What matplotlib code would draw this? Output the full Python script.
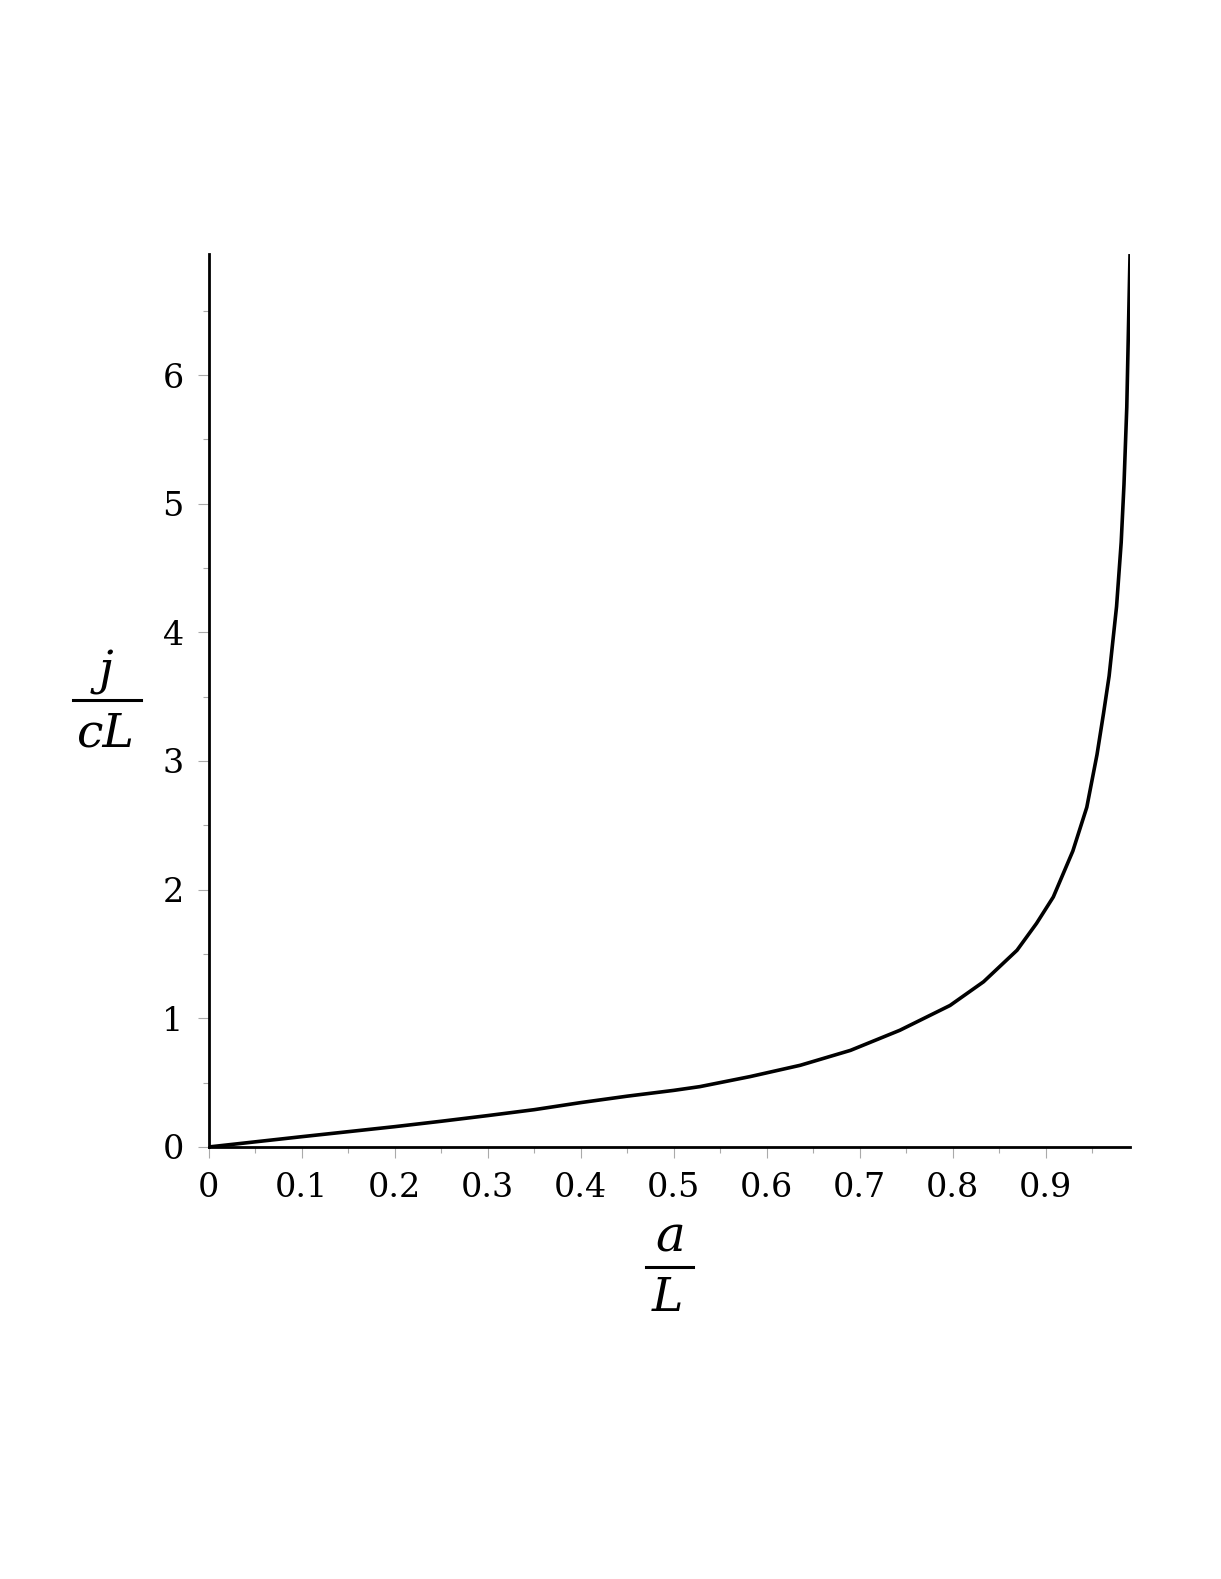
import numpy as np
import matplotlib
matplotlib.use("Agg")
import matplotlib.pyplot as plt
from matplotlib.lines import Line2D
from matplotlib.ticker import MultipleLocator

# values
a_over_L = [0, 0.05, 0.1, 0.15, 0.2, 0.25, 0.3, 0.35, 0.4, 0.45, 0.5, 0.528,
            0.582, 0.636, 0.690, 0.743, 0.797, 0.833, 0.869, 0.890, 0.908,
            0.929, 0.944, 0.955, 0.962, 0.968, 0.976, 0.981, 0.984, 0.987,
            0.9905]
j_over_cL = [0, 0.04, 0.08, 0.119, 0.158, 0.20, 0.244, 0.29, 0.345, 0.395,
             0.44, 0.469, 0.547, 0.635, 0.751, 0.907, 1.10, 1.284, 1.529,
             1.738, 1.943, 2.30, 2.64, 3.05, 3.37, 3.66, 4.20, 4.70, 5.15,
             5.75, 6.94]
x_ticks = [0, 0.1, 0.2, 0.3, 0.4, 0.5, 0.6, 0.7, 0.8, 0.9]
x_ticklabels = ["0", "0.1", "0.2", "0.3", "0.4", "0.5", "0.6", "0.7", "0.8", "0.9"]
y_ticks = [0, 1, 2, 3, 4, 5, 6]

plt.rcParams['font.family'] = ['DejaVu Serif']

fig = plt.figure(figsize=(12.21, 15.79), dpi=100)
ax = fig.add_axes([0.1709, 0.2736, 0.7546, 0.5655])

ax.plot(a_over_L, j_over_cL, color="black", lw=2.6,
        solid_joinstyle="round", solid_capstyle="butt")

ax.set_xlim(0, 0.9905)
ax.set_ylim(0, 6.94)
ax.set_xticks(x_ticks)
ax.set_xticklabels(x_ticklabels)
ax.set_yticks(y_ticks)
ax.xaxis.set_minor_locator(MultipleLocator(0.05))
ax.yaxis.set_minor_locator(MultipleLocator(0.5))

for s in ["top", "right"]:
    ax.spines[s].set_visible(False)
for s in ["left", "bottom"]:
    ax.spines[s].set_linewidth(2.0)
    ax.spines[s].set_color("black")

ax.tick_params(which="major", length=8, width=0.8, color="#aaaaaa",
               labelsize=24, pad=10)
ax.tick_params(which="minor", length=4, width=0.8, color="#aaaaaa")

# axis labels drawn as stacked fractions
fig.text(106 / 1221, 1 - 672 / 1579, "j", fontsize=34, style="italic",
         ha="center", va="center")
fig.add_artist(Line2D([73 / 1221, 141 / 1221], [1 - 700 / 1579, 1 - 700 / 1579],
                      color="black", lw=2.2))
fig.text(106 / 1221, 1 - 734 / 1579, "cL", fontsize=34, style="italic",
         ha="center", va="center")

fig.text(670 / 1221, 1 - 1238 / 1579, "a", fontsize=36, style="italic",
         ha="center", va="center")
fig.add_artist(Line2D([646 / 1221, 693 / 1221], [1 - 1267 / 1579, 1 - 1267 / 1579],
                      color="black", lw=2.2))
fig.text(667 / 1221, 1 - 1298 / 1579, "L", fontsize=34, style="italic",
         ha="center", va="center")

fig.savefig("out.png", dpi=100)
